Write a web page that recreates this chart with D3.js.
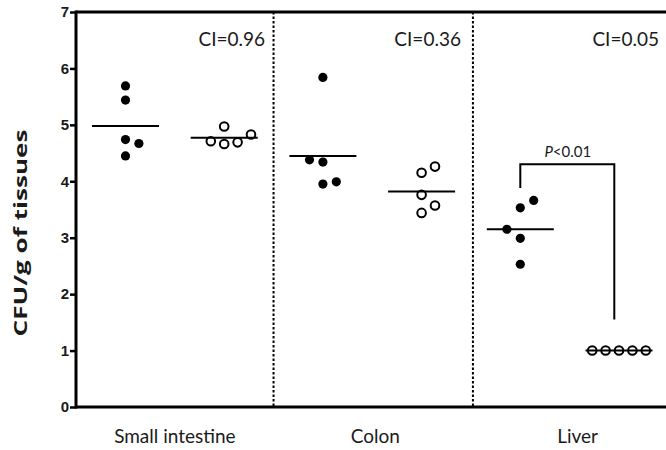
<!DOCTYPE html>
<html><head><meta charset="utf-8">
<script src="https://cdn.jsdelivr.net/npm/d3@7"></script>
<style>body{margin:0;background:#fff}svg{display:block}</style>
</head><body>
<svg id="c" width="666" height="450"></svg>
<script>
// ---- data ----
const categories = ["Small intestine", "Colon", "Liver"];
const ciLabels = ["CI=0.96", "CI=0.36", "CI=0.05"];
const yTicks = [0, 1, 2, 3, 4, 5, 6, 7];
// groups: filled (wild type) and open (mutant) per tissue, slot index 0..5
const siFilled = [5.69, 5.44, 4.74, 4.67, 4.45];
const siFilledJitter = [0, 0, 0, 1, 0];
const siOpen = [4.71, 4.66, 4.97, 4.69, 4.83];
const siOpenJitter = [-1, 0, 0, 1, 2];
const colonFilled = [5.84, 4.38, 4.34, 3.95, 3.99];
const colonFilledJitter = [0, -1, 0, 0, 1];
const colonOpen = [4.15, 4.26, 3.76, 3.57, 3.44];
const colonOpenJitter = [0, 1, 0, 1, 0];
const liverFilled = [3.53, 3.66, 3.15, 2.99, 2.53];
const liverFilledJitter = [0, 1, -1, 0, 0];
const liverOpen = [1.0, 1.0, 1.0, 1.0, 1.0];
const liverOpenJitter = [-2, -1, 0, 1, 2];
const groupMeans = [4.98, 4.77, 4.45, 3.82, 3.15, 1.0];
const pLabel = "P<0.01";
const bracketTop = 4.3, bracketLeftBottom = 3.88, bracketRightBottom = 1.55;

const groups = [
  {vals: siFilled, jit: siFilledJitter, filled: true},
  {vals: siOpen, jit: siOpenJitter, filled: false},
  {vals: colonFilled, jit: colonFilledJitter, filled: true},
  {vals: colonOpen, jit: colonOpenJitter, filled: false},
  {vals: liverFilled, jit: liverFilledJitter, filled: true},
  {vals: liverOpen, jit: liverOpenJitter, filled: false}
];

// ---- layout ----
const svg = d3.select("#c");
const x0 = 76, x1 = 666, yTop = 12, yBot = 407;
const x = d3.scaleLinear().domain([0, 5]).range([125.5, 619]);
const y = d3.scaleLinear().domain([0, 7]).range([yBot, yTop]);
const jitterPx = 13.4, r = 4.6, halfMean = 33.5;
const txt = "#1a1a1a";
const labelFont = "Lato, 'Open Sans', sans-serif";

// dividers
[1.5, 3.52].forEach(s => {
  svg.append("line").attr("x1", x(s)).attr("x2", x(s)).attr("y1", yTop).attr("y2", yBot)
    .attr("stroke", "#000").attr("stroke-width", 2).attr("stroke-dasharray", "2.5,2");
});

// y axis
const yAxis = d3.axisLeft(y).tickValues(yTicks).tickSize(6).tickPadding(1).tickFormat(d3.format("d"));
const ya = svg.append("g").attr("transform", `translate(${x0},0)`).call(yAxis)
  .attr("font-size", 15).attr("font-family", "Arial, 'Liberation Sans', sans-serif");
ya.select(".domain").remove();
ya.selectAll(".tick line").attr("stroke", "#000").attr("stroke-width", 2.5);
ya.selectAll(".tick text").style("font-size", "15px").style("font-weight", "bold").attr("fill", txt);

// frame lines
svg.append("line").attr("x1", x0).attr("x2", x0).attr("y1", yTop - 1.5).attr("y2", yBot + 1.5).attr("stroke", "#000").attr("stroke-width", 3);
svg.append("line").attr("x1", x0).attr("x2", x1).attr("y1", yTop).attr("y2", yTop).attr("stroke", "#000").attr("stroke-width", 3);
svg.append("line").attr("x1", x0).attr("x2", x1).attr("y1", yBot).attr("y2", yBot).attr("stroke", "#000").attr("stroke-width", 3);

// points
groups.forEach((g, i) => {
  svg.append("g").selectAll("circle").data(g.vals).join("circle")
    .attr("cx", (d, k) => x(i) + g.jit[k] * jitterPx)
    .attr("cy", d => y(d))
    .attr("r", g.filled ? r : r - 0.3)
    .attr("fill", g.filled ? "#000" : "none")
    .attr("stroke", "#000")
    .attr("stroke-width", g.filled ? 0 : 2);
});

// mean lines
svg.append("g").selectAll("line").data(groupMeans).join("line")
  .attr("x1", (d, i) => x(i) - halfMean).attr("x2", (d, i) => x(i) + halfMean)
  .attr("y1", d => y(d)).attr("y2", d => y(d))
  .attr("stroke", "#000").attr("stroke-width", 2);

// bracket
const bx1 = x(4), bx2 = x(5) - 4.7;
svg.append("path")
  .attr("d", `M${bx1},${y(bracketLeftBottom)}V${y(bracketTop)}H${bx2}V${y(bracketRightBottom)}`)
  .attr("fill", "none").attr("stroke", "#000").attr("stroke-width", 2);
const pt = svg.append("text").attr("x", (bx1 + bx2) / 2 + 0.5).attr("y", y(bracketTop) - 7.5)
  .attr("text-anchor", "middle").attr("font-family", labelFont).attr("font-size", 15).attr("fill", txt);
pt.append("tspan").attr("font-style", "italic").text(pLabel.slice(0, 1));
pt.append("tspan").text(pLabel.slice(1));

// CI labels
const ciRight = [x(1.5) - 8.5, x(3.52) - 12, 659];
svg.append("g").selectAll("text").data(ciLabels).join("text")
  .attr("x", (d, i) => ciRight[i]).attr("y", 46)
  .attr("text-anchor", "end").attr("font-family", labelFont).attr("font-size", 19)
  .attr("fill", txt).text(d => d);

// category labels
const labelSlot = [0.5, 2.53, 4.58];
svg.append("g").selectAll("text").data(categories).join("text")
  .attr("x", (d, i) => x(labelSlot[i])).attr("y", 443)
  .attr("text-anchor", "middle").attr("font-family", labelFont).attr("font-size", 19)
  .attr("fill", txt).text(d => d);

// y title
svg.append("text").attr("transform", "translate(27,233) rotate(-90)")
  .attr("text-anchor", "middle").attr("font-family", "'Open Sans', sans-serif")
  .attr("font-weight", "bold").attr("font-size", 17).attr("fill", txt)
  .attr("textLength", 207).attr("lengthAdjust", "spacingAndGlyphs")
  .text("CFU/g of tissues");
</script>
</body></html>
